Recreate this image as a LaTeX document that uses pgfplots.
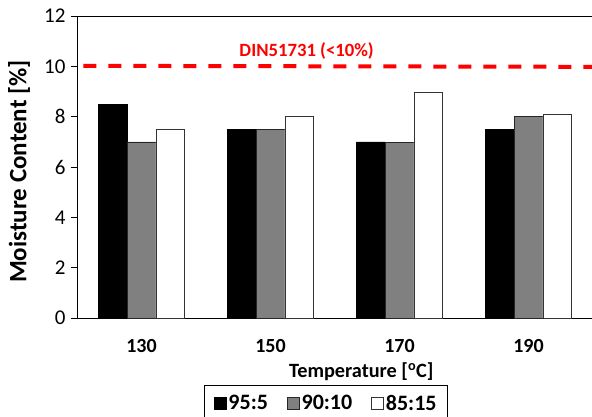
\documentclass[border=0pt]{standalone}
\usepackage{fontspec}
\setmainfont{Carlito}
\usepackage{pgfplots}
\pgfplotsset{compat=1.18}
\definecolor{midgray}{HTML}{808080}
\definecolor{dinred}{HTML}{FF0000}
\begin{document}
\begin{tikzpicture}
\begin{axis}[name=ax,
  scale only axis, width=516bp, height=302bp,
  ybar=0pt, bar width=28.7bp,
  xmin=-0.5, xmax=3.5, ymin=0, ymax=12,
  xtick={0,1,2,3}, xticklabels={130,150,170,190},
  xtick style={draw=none},
  ytick={0,2,...,12}, ytick pos=left,
  tick align=outside, major tick length=6bp,
  /pgf/number format/assume math mode=true,
  yticklabel style={font=\fontsize{21bp}{25bp}\selectfont, xshift=-2bp},
  xticklabel style={font=\fontsize{20bp}{24bp}\selectfont\bfseries, yshift=-12bp},
  axis line style={line width=0.8bp},
  every tick/.style={line width=0.8bp, black},
  ylabel={\bfseries Moisture Content [\%]},
  ylabel style={font=\fontsize{25bp}{30bp}\selectfont, at={(axis description cs:-0.112,0.485)}, anchor=center},
  xlabel={\bfseries Temperature [\textsuperscript{o}C]},
  xlabel style={font=\fontsize{20.3bp}{24bp}\selectfont, at={(axis description cs:0.551,0)}, anchor=center, yshift=-54bp},
  legend columns=3,
  legend style={at={(axis description cs:0.483,-0.2205)}, anchor=north,
    font=\fontsize{22bp}{26bp}\selectfont\bfseries, draw=black, line width=0.8bp,
    /tikz/every even column/.append style={column sep=17bp},
    nodes={inner xsep=2bp},
    inner xsep=9bp, inner ysep=8bp},
  legend image code/.code={\draw[#1, line width=0.6bp] (0bp,-6bp) rectangle (12bp,6bp);},
]
\addplot[fill=black, draw=black, line width=0.6bp] coordinates {(0,8.5) (1,7.5) (2,7.0) (3,7.5)};
\addplot[fill=midgray, draw=black!85, line width=0.6bp] coordinates {(0,7.0) (1,7.5) (2,6.97) (3,8.0)};
\addplot[fill=white, draw=black!80, line width=0.6bp] coordinates {(0,7.5) (1,8.0) (2,8.95) (3,8.1)};
\legend{95:5,90:10,85:15}
\addplot[sharp plot, forget plot, dinred, line width=4bp, dash pattern=on 13bp off 12bp] coordinates {(-0.45,10.02) (3.5,9.98)};
\node[text=dinred, font=\fontsize{18.7bp}{22bp}\selectfont\bfseries] at (axis cs:1.28,10.62) {DIN51731 (<10\%)};
\end{axis}
\pgfresetboundingbox
\path[use as bounding box] (ax.south west) ++(-77bp,-99bp) rectangle ++(592bp,417bp);
\end{tikzpicture}
\end{document}
